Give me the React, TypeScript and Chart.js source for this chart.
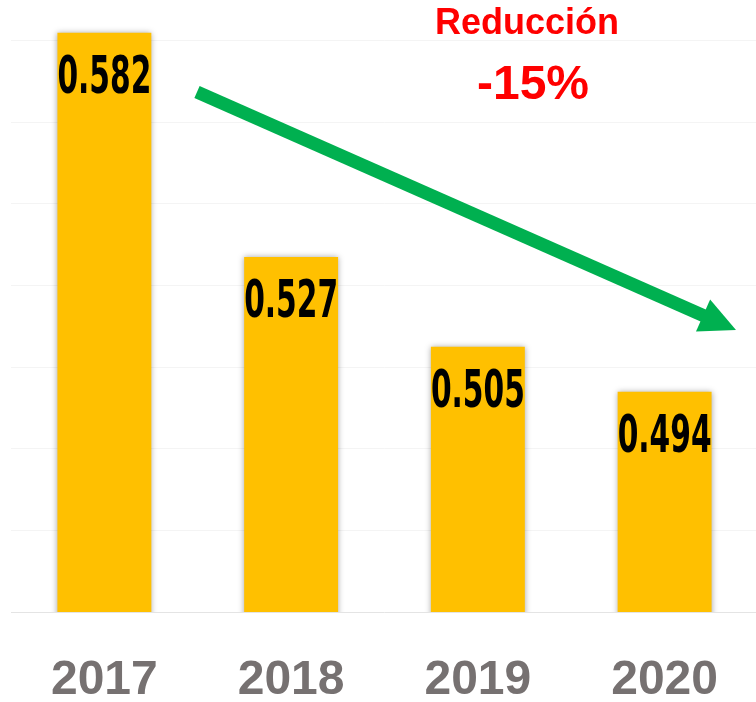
import React, { useEffect, useRef } from "react";
import { Chart, registerables } from "chart.js";
Chart.register(...registerables);

const years = ["2017", "2018", "2019", "2020"];
const values = [0.582, 0.527, 0.505, 0.494];
const valueLabels = ["0.582", "0.527", "0.505", "0.494"];
const yMin = 0.44;
const yMax = 0.59;
const yStep = 0.02;
const noteLine1 = "Reducción";
const noteLine2 = "-15%";

export default function App() {
  const ref = useRef<HTMLCanvasElement>(null);
  useEffect(() => {
    if (!ref.current) return;
    const shadow = {
      id: "barShadow",
      beforeDatasetsDraw(chart: any) {
        const ctx = chart.ctx;
        ctx.save();
        ctx.shadowColor = "rgba(0,0,0,0.35)";
        ctx.shadowBlur = 6;
        ctx.shadowOffsetX = 0;
        ctx.shadowOffsetY = 0;
      },
      afterDatasetsDraw(chart: any) {
        chart.ctx.restore();
      },
    };
    const overlay = {
      id: "overlay",
      afterDatasetsDraw(chart: any) {
        const ctx = chart.ctx;
        const meta = chart.getDatasetMeta(0);
        ctx.save();
        meta.data.forEach((bar: any, i: number) => {
          const txt = valueLabels[i];
          ctx.font = "bold 51px 'DejaVu Sans Condensed', 'DejaVu Sans'";
          const w = ctx.measureText(txt).width;
          const sx = bar.width / w;
          ctx.save();
          ctx.translate(bar.x, bar.y + 60);
          ctx.scale(sx, 1);
          ctx.fillStyle = "#000000";
          ctx.textAlign = "center";
          ctx.textBaseline = "alphabetic";
          ctx.fillText(txt, 0, 0);
          ctx.restore();
        });
        ctx.fillStyle = "#FF0000";
        ctx.textAlign = "center";
        ctx.textBaseline = "alphabetic";
        ctx.font = "bold 36px 'Liberation Sans'";
        ctx.fillText(noteLine1, 527, 34);
        ctx.font = "bold 48px 'Liberation Sans'";
        ctx.fillText(noteLine2, 533, 99);
        const x0 = 197, y0 = 92, tipX = 736, tipY = 330;
        const dx = tipX - x0, dy = tipY - y0;
        const len = Math.hypot(dx, dy);
        const ux = dx / len, uy = dy / len;
        const headLen = 36, halfW = 17.5;
        const bx = tipX - ux * headLen, by = tipY - uy * headLen;
        ctx.strokeStyle = "#00B050";
        ctx.lineWidth = 13;
        ctx.lineCap = "butt";
        ctx.beginPath();
        ctx.moveTo(x0, y0);
        ctx.lineTo(bx + ux * 2, by + uy * 2);
        ctx.stroke();
        ctx.fillStyle = "#00B050";
        ctx.beginPath();
        ctx.moveTo(tipX, tipY);
        ctx.lineTo(bx - uy * halfW, by + ux * halfW);
        ctx.lineTo(bx + uy * halfW, by - ux * halfW);
        ctx.closePath();
        ctx.fill();
        ctx.restore();
      },
    };
    const chart = new Chart(ref.current, {
      type: "bar",
      data: {
        labels: years,
        datasets: [
          {
            data: values,
            backgroundColor: "#FFC000",
            borderWidth: 0,
            barPercentage: 0.503,
            categoryPercentage: 1,
          },
        ],
      },
      options: {
        responsive: false,
        animation: false,
        events: [],
        layout: { padding: { left: 11, right: 0, top: 0, bottom: 0 } },
        plugins: { legend: { display: false }, tooltip: { enabled: false } },
        scales: {
          x: {
            grid: { display: false, drawTicks: false },
            border: { display: false },
            ticks: {
              color: "#767171",
              font: { family: "'Liberation Sans'", size: 48, weight: "bold", lineHeight: 1 },
              padding: 45,
            },
            afterFit: (scale: any) => {
              scale.height = 90;
            },
          },
          y: {
            min: yMin,
            max: yMax,
            border: { display: false },
            ticks: { display: false, stepSize: yStep },
            grid: {
              drawTicks: false,
              lineWidth: 1,
              color: (c: any) => {
                const v = c.tick ? c.tick.value : 0;
                const k = Math.round((v - yMin) / yStep);
                if (Math.abs(yMin + k * yStep - v) > 1e-6) return "rgba(0,0,0,0)";
                if (k === 0) return "#E4E4E4";
                return "#F4F4F4";
              },
            },
          },
        },
      },
      plugins: [shadow, overlay],
    });
    return () => chart.destroy();
  }, []);
  return (
    <div style={{ position: "absolute", left: 0, top: 0, width: 756, height: 702, overflow: "hidden", background: "#FFFFFF" }}>
      <canvas ref={ref} width={763} height={702} style={{ display: "block" }} />
    </div>
  );
}
